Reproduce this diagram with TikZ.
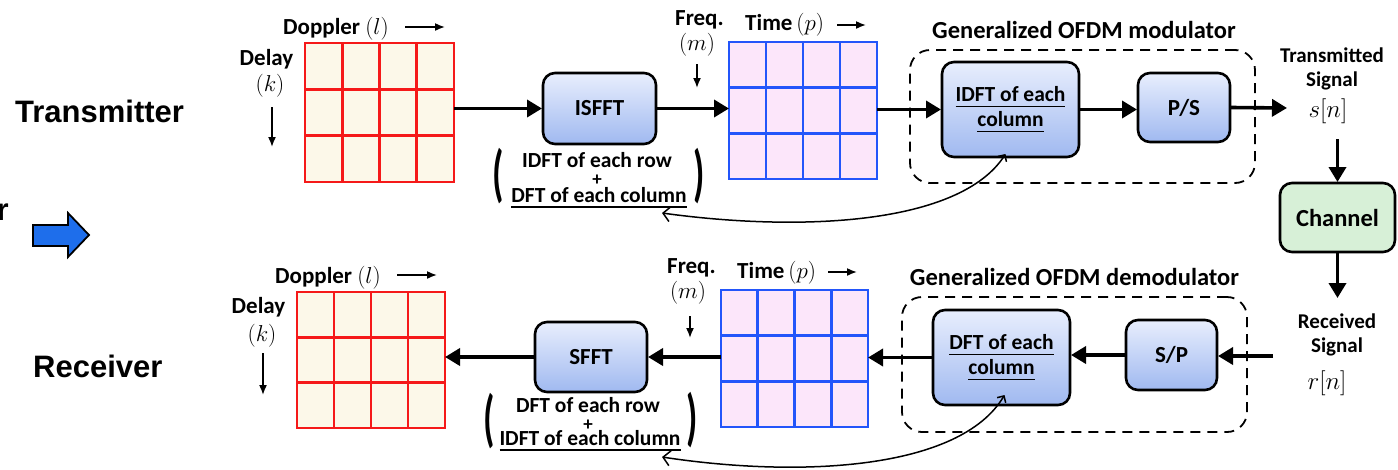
\RequirePackage{fix-cm}
\documentclass[tikz,border=0pt]{standalone}
\usepackage{fontspec}
\usetikzlibrary{arrows.meta,calc}
\newfontfamily\carlito{Carlito}
\newfontfamily\liberation{Liberation Sans}

% text with a heavy underline
\newsavebox\ulbx
\newcommand\ulx[1]{\leavevmode\sbox\ulbx{#1}\rlap{\rule[-5.5pt]{\wd\ulbx}{1.5pt}}\usebox\ulbx}

\definecolor{gridred}{RGB}{245,25,25}
\definecolor{cream}{RGB}{252,248,233}
\definecolor{gridblue}{RGB}{35,85,250}
\definecolor{pinkfill}{RGB}{252,230,250}
\definecolor{boxtop}{RGB}{232,238,253}
\definecolor{boxbot}{RGB}{160,185,240}
\definecolor{chfill}{RGB}{215,240,215}
\definecolor{arrowblue}{RGB}{30,110,235}

% interior lines of a 4x3 grid node
\newcommand\gridlines[2]{%
  \foreach \f in {0.25,0.5,0.75}{
    \draw[#2, line width=2.8pt] ($(#1.north west)!\f!(#1.north east)$) -- ($(#1.south west)!\f!(#1.south east)$);}
  \foreach \f in {0.3333,0.6667}{
    \draw[#2, line width=2.8pt] ($(#1.north west)!\f!(#1.south west)$) -- ($(#1.north east)!\f!(#1.south east)$);}
}

\tikzset{
  ddgrid/.style={draw=gridred, fill=cream, line width=2.8pt, inner sep=0pt, outer sep=0pt},
  tfgrid/.style={draw=gridblue, fill=pinkfill, line width=2.8pt, inner sep=0pt, outer sep=0pt},
  blk/.style={draw, line width=2.6pt, rounded corners=12pt, top color=boxtop, bottom color=boxbot,
    inner sep=0pt, outer sep=1pt, align=center, font=\carlito\bfseries\fontsize{23}{25}\selectfont},
  chbox/.style={draw, line width=2.6pt, rounded corners=12pt, fill=chfill, inner sep=0pt, outer sep=1pt,
    font=\carlito\bfseries\fontsize{24.5}{28}\selectfont},
  dashbox/.style={draw, line width=1.8pt, dash pattern=on 10pt off 7pt, rounded corners=20pt, inner sep=0pt},
  axlbl/.style={inner sep=0pt, font=\carlito\bfseries\fontsize{23}{26}\selectfont},
  ptxt/.style={inner sep=0pt, font=\carlito\bfseries\fontsize{21.5}{24}\selectfont},
  plus/.style={inner sep=0pt, font=\carlito\bfseries\fontsize{19}{20}\selectfont},
  title/.style={inner sep=0pt, font=\carlito\bfseries\fontsize{24.5}{28}\selectfont},
  sig/.style={inner sep=0pt, font=\carlito\bfseries\fontsize{21}{24}\selectfont},
  sigm/.style={inner sep=0pt, font=\fontsize{25}{28}\selectfont},
  side/.style={inner sep=0pt, font=\liberation\bfseries\fontsize{31}{34}\selectfont},
  paren/.style={inner sep=0pt, font=\carlito\bfseries\fontsize{21.5}{24}\selectfont},
  axarr/.style={line width=1.6pt, -{Latex[length=10pt,width=8pt]}},
  bigarr/.style={line width=3.6pt, -{Triangle[length=15pt,width=17pt]}},
  fb/.style={line width=1.5pt, {Straight Barb[length=5pt,width=10pt]}-{Straight Barb[length=7pt,width=15pt]}},
}

\begin{document}
\begin{tikzpicture}[x=1pt,y=-1pt]
\useasboundingbox (0,0) rectangle (1398,469);

% ---------- side labels ----------
\node[side, anchor=base west] (txlabel) at (15,122) {Transmitter};
\node[side, anchor=base west] (rxlabel) at (33,377) {Receiver};
\node[side, anchor=base east] (cutr) at (9,220) {r};
\draw[fill=arrowblue, line width=1.8pt, line join=miter]
  (33,225) -- (68,225) -- (68,213) -- (89,235) -- (68,257) -- (68,246) -- (33,246) -- cycle;

% ---------- dashed OFDM frames ----------
\node[dashbox, minimum width=345pt, minimum height=133pt] (modframe) at (1082.5,116.5) {};
\node[dashbox, minimum width=345pt, minimum height=135pt] (demframe) at (1074.5,364.5) {};
\node[title, anchor=base] (modtitle) at (1084,38) {Generalized OFDM modulator};
\node[title, anchor=base] (demtitle) at (1074.5,285) {Generalized OFDM demodulator};

% ---------- grids ----------
\node[ddgrid, minimum width=149pt, minimum height=139pt] (dd1) at (379.5,112.5) {};
\gridlines{dd1}{gridred}
\node[tfgrid, minimum width=148pt, minimum height=137pt] (tf1) at (803,110.5) {};
\gridlines{tf1}{gridblue}
\node[ddgrid, minimum width=148pt, minimum height=136pt] (dd2) at (371,360) {};
\gridlines{dd2}{gridred}
\node[tfgrid, minimum width=147pt, minimum height=137pt] (tf2) at (794.5,358.5) {};
\gridlines{tf2}{gridblue}

% ---------- axis labels ----------
\node[axlbl, anchor=base west] (dop1) at (283,34) {Doppler $(l)$};
\draw[axarr] (405,27) -- (445,27);
\node[axlbl, anchor=base] (del1) at (266.5,65) {Delay};
\node[axlbl, anchor=base] (k1) at (270,91) {$(k)$};
\draw[axarr] (272,107) -- (272,147);
\node[axlbl, anchor=base west] (fq1) at (675,25) {Freq.};
\node[axlbl, anchor=base] (m1) at (697,50) {$(m)$};
\draw[axarr] (697,64) -- (697,88);
\node[axlbl, anchor=base west] (tm1) at (745,30) {Time\,$(p)$};
\draw[axarr] (837,25) -- (866,25);

\node[axlbl, anchor=base west] (dop2) at (275,283) {Doppler $(l)$};
\draw[axarr] (397,275) -- (437,275);
\node[axlbl, anchor=base] (del2) at (258.5,313) {Delay};
\node[axlbl, anchor=base] (k2) at (262,341) {$(k)$};
\draw[axarr] (263,353) -- (263,395);
\node[axlbl, anchor=base west] (fq2) at (667,273) {Freq.};
\node[axlbl, anchor=base] (m2) at (688,298) {$(m)$};
\draw[axarr] (690,316) -- (690,338);
\node[axlbl, anchor=base west] (tm2) at (737,278) {Time\,$(p)$};
\draw[axarr] (828,272) -- (857,272);

% ---------- processing blocks ----------
\node[blk, minimum width=113pt, minimum height=71pt] (isfft) at (599.5,108.5) {ISFFT};
\node[blk, minimum width=137pt, minimum height=95pt, font=\carlito\bfseries\fontsize{21.5}{25}\selectfont] (idft) at (1010.5,109.5) {\ulx{IDFT of each}\\\ulx{column}};
\node[blk, minimum width=92pt, minimum height=69pt] (ps) at (1184,107.5) {P/S};
\node[chbox, minimum width=115pt, minimum height=69pt] (ch) at (1337.5,217.5) {Channel};
\node[blk, minimum width=91pt, minimum height=70pt] (sp) at (1171.5,355) {S/P};
\node[blk, minimum width=137pt, minimum height=95pt, font=\carlito\bfseries\fontsize{21.5}{25}\selectfont] (dft) at (1001.5,357.5) {\ulx{DFT of each}\\\ulx{column}};
\node[blk, minimum width=112pt, minimum height=70pt] (sfft) at (591,357) {SFFT};

% ---------- signal labels ----------
\node[sig, anchor=base] (tsig1) at (1332,62) {Transmitted};
\node[sig, anchor=base] (tsig2) at (1332,86) {Signal};
\node[sigm, anchor=base] (sn) at (1328,117) {$s[n]$};
\node[sig, anchor=base] (rsig1) at (1337,328) {Received};
\node[sig, anchor=base] (rsig2) at (1337,352) {Signal};
\node[sigm, anchor=base] (rn) at (1327,389) {$r[n]$};

% ---------- bracketed notes ----------
\node[ptxt, anchor=base] (isrow) at (597,167) {IDFT of each row};
\node[plus] (isplus) at (597,180) {+};
\node[ptxt, anchor=base] (iscol) at (599,202) {\ulx{DFT of each column}};
\node[paren] (isl) at (498,176) {\scalebox{1.7}[2.9]{(}};
\node[paren] (isr) at (699,176) {\scalebox{1.7}[2.9]{)}};

\node[ptxt, anchor=base] (sfrow) at (588,412) {DFT of each row};
\node[plus] (sfplus) at (588,425) {+};
\node[ptxt, anchor=base] (sfcol) at (590,445) {\ulx{IDFT of each column}};
\node[paren] (sfl) at (489,421) {\scalebox{1.7}[2.9]{(}};
\node[paren] (sfr) at (692,420) {\scalebox{1.7}[2.9]{)}};

% ---------- transmitter chain ----------
\coordinate (txs) at (1287,108);
\draw[bigarr] (dd1.east |- isfft.west) -- (isfft.west);
\draw[bigarr] (isfft.east) -- (isfft.east -| tf1.west);
\draw[bigarr] (tf1.east |- idft.west) -- (idft.west);
\draw[bigarr] (idft.east) -- (idft.east -| ps.west);
\draw[bigarr] (ps.east) -- (txs);
\draw[bigarr, shorten <=16pt] (sn.south -| ch.north) -- (ch.north);

% ---------- receiver chain ----------
\coordinate (rxtop) at (1337.5,298);
\coordinate (rxs) at (1273,356);
\draw[bigarr] (ch.south) -- (rxtop);
\draw[bigarr] (rxs) -- (rxs -| sp.east);
\draw[bigarr] (sp.west) -- (sp.west -| dft.east);
\draw[bigarr] (dft.west) -- (dft.west -| tf2.east);
\draw[bigarr] (tf2.west |- sfft.east) -- (sfft.east);
\draw[bigarr] (sfft.west) -- (sfft.west -| dd2.east);

% ---------- equivalence links ----------
\coordinate (fb1) at (662,213);
\coordinate (fb2) at (662,457);
\draw[fb] ([xshift=-5pt,yshift=4pt]idft.south) .. controls (960,225) and (800,232) .. (fb1);
\draw[fb] ([xshift=3pt,yshift=11pt]dft.south) .. controls (960,470) and (800,478) .. (fb2);
\end{tikzpicture}
\end{document}
